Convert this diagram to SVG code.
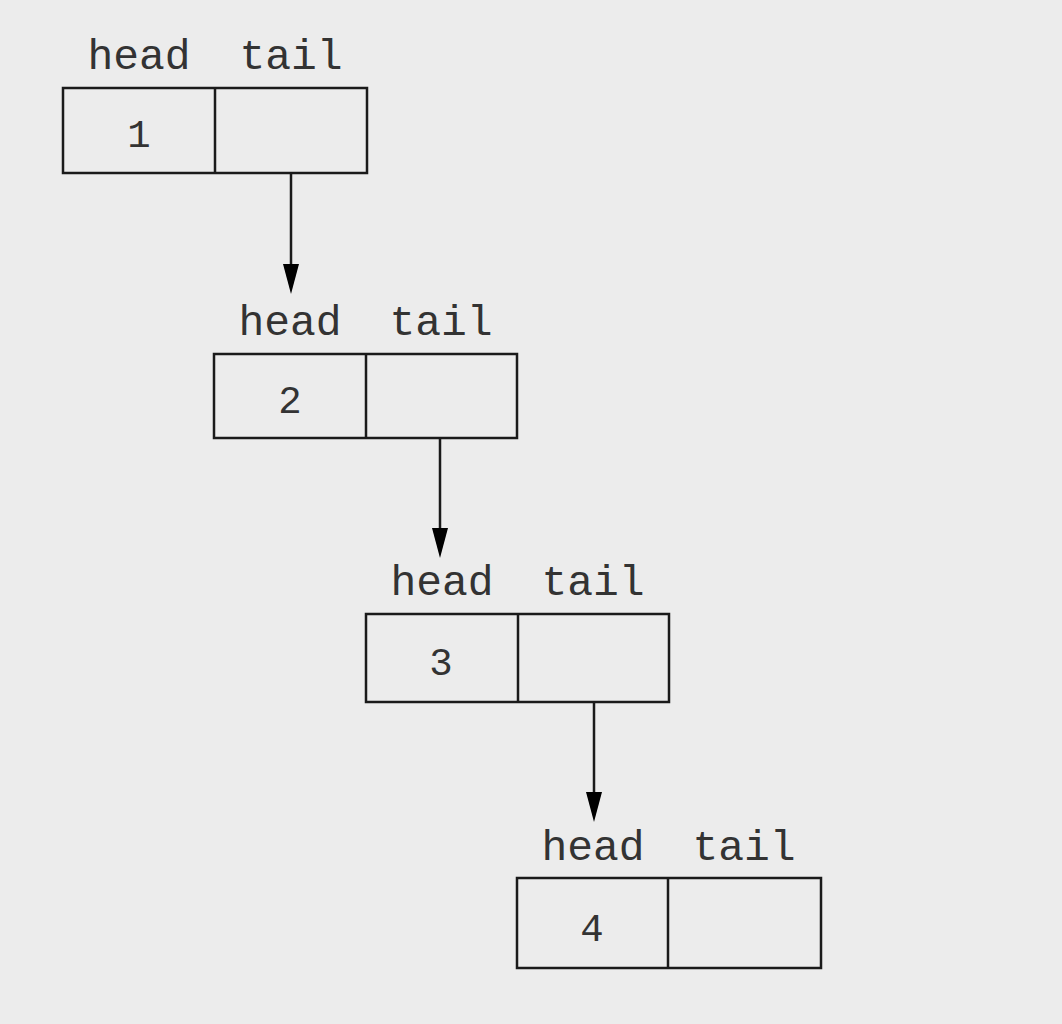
<svg xmlns="http://www.w3.org/2000/svg" width="1062" height="1024" viewBox="0 0 1062 1024">
<defs>
<style>
.cell{fill:none;stroke:#1a1a1a;stroke-width:2.5}
.lbl{font-family:"Liberation Mono","Courier New",monospace;font-size:43px;fill:#333;text-anchor:middle}
.num{font-family:"Liberation Mono","Courier New",monospace;font-size:39px;fill:#333;text-anchor:middle}
.edge{stroke:#1a1a1a;stroke-width:2.5;fill:none}
.head{fill:#000}
</style>
</defs>
<rect width="1062" height="1024" fill="#ececec"/>
<g id="node1">
<text class="lbl" x="139" y="69">head</text>
<text class="lbl" x="291" y="69">tail</text>
<rect class="cell" x="63" y="88" width="304" height="85"/>
<line class="cell" x1="215" y1="88" x2="215" y2="173"/>
<text class="num" x="139" y="147">1</text>
</g>
<g id="node2">
<text class="lbl" x="290" y="335">head</text>
<text class="lbl" x="441" y="335">tail</text>
<rect class="cell" x="214" y="354" width="303" height="84"/>
<line class="cell" x1="366" y1="354" x2="366" y2="438"/>
<text class="num" x="290" y="413">2</text>
</g>
<g id="node3">
<text class="lbl" x="442" y="595">head</text>
<text class="lbl" x="593" y="595">tail</text>
<rect class="cell" x="366" y="614" width="303" height="88"/>
<line class="cell" x1="518" y1="614" x2="518" y2="702"/>
<text class="num" x="441" y="675">3</text>
</g>
<g id="node4">
<text class="lbl" x="593" y="860">head</text>
<text class="lbl" x="744" y="860">tail</text>
<rect class="cell" x="517" y="878" width="304" height="90"/>
<line class="cell" x1="668" y1="878" x2="668" y2="968"/>
<text class="num" x="592" y="941">4</text>
</g>
<g id="connectors">
<line class="edge" x1="291" y1="173" x2="291" y2="266"/>
<polygon class="head" points="283,264 299,264 291,294"/>
<line class="edge" x1="440" y1="438" x2="440" y2="530"/>
<polygon class="head" points="432,528 448,528 440,558"/>
<line class="edge" x1="594" y1="702" x2="594" y2="794"/>
<polygon class="head" points="586,792 602,792 594,822"/>
</g>
</svg>
